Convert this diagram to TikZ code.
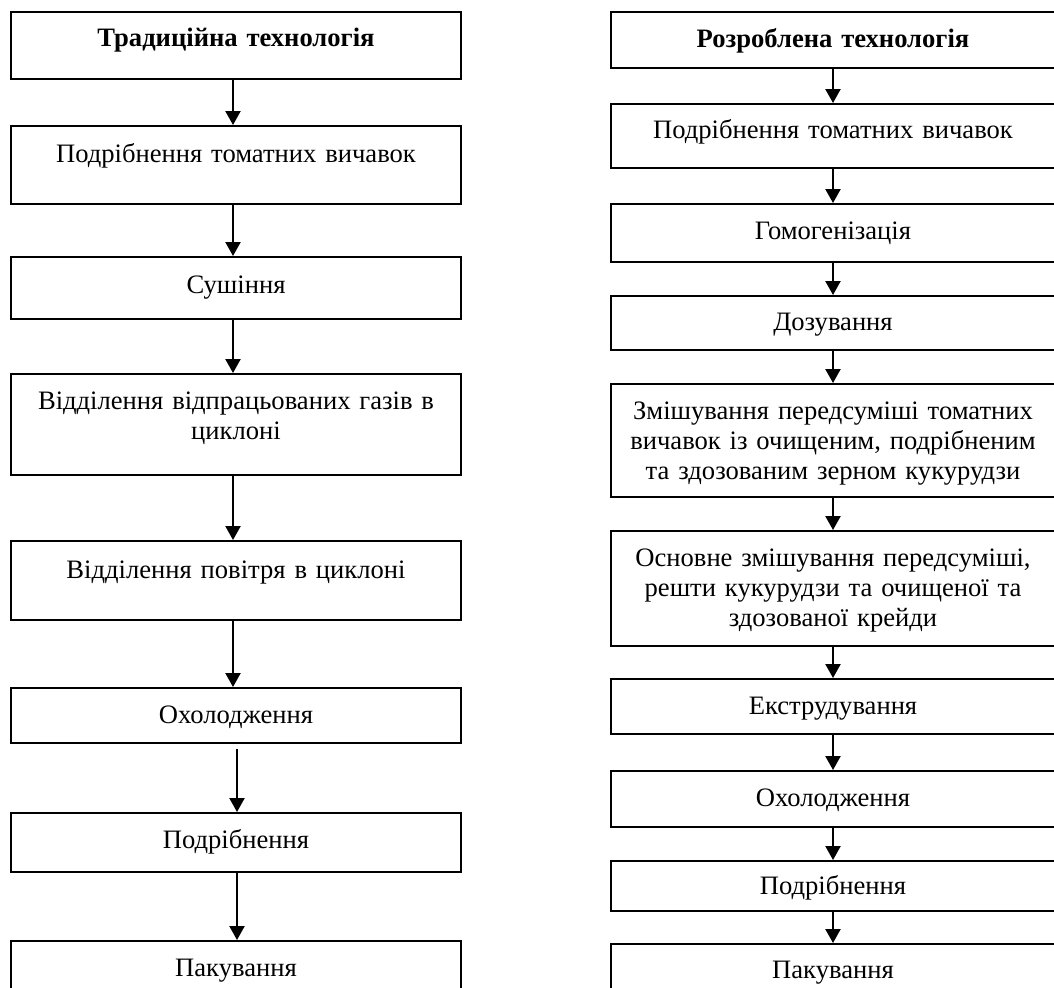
\documentclass[tikz,border=0pt]{standalone}
\usepackage{fontspec}
\setmainfont{Liberation Serif}
\usetikzlibrary{arrows.meta}
\tikzset{
  stage/.style={draw, line width=1pt, inner sep=0pt, anchor=north, align=center, text height=17.5pt},
  lstage/.style={stage, text width=225pt},
  rstage/.style={stage, text width=222pt},
  flow/.style={line width=1.1pt, -{Triangle[width=7.5pt,length=7pt]}}
}
\begin{document}
\begin{tikzpicture}[x=0.5pt, y=-0.5pt, font=\fontsize{13.3}{15}\selectfont]
\useasboundingbox (0,0) rectangle (1054,987);
\clip (0,0) rectangle (1054,987);
\node[lstage, text height=17pt, text depth=16.5pt] (trad0) at (236,11){\textbf{Традиційна технологія}};
\node[lstage, text height=18pt, text depth=21pt] (trad1) at (236,125){Подрібнення томатних вичавок};
\node[lstage, text height=18pt, text depth=13pt] (trad2) at (236,256){Сушіння};
\node[lstage, text depth=33pt] (trad3) at (236,373){Відділення відпрацьованих газів в\\циклоні};
\node[lstage, text height=18.5pt, text depth=21pt] (trad4) at (236,540){Відділення повітря в циклоні};
\node[lstage, text depth=10pt] (trad5) at (236,687){Охолодження};
\node[lstage, text depth=12pt] (trad6) at (236,812){Подрібнення};
\node[lstage, text depth=30pt] (trad7) at (236,940){Пакування};
\draw[flow] ([xshift=-1.5pt]trad0.south) -- ([xshift=-1.5pt]trad1.north);
\draw[flow] ([xshift=-1.5pt]trad1.south) -- ([xshift=-1.5pt]trad2.north);
\draw[flow] ([xshift=-1.5pt]trad2.south) -- ([xshift=-1.5pt]trad3.north);
\draw[flow] ([xshift=-1.5pt]trad3.south) -- ([xshift=-1.5pt]trad4.north);
\draw[flow] ([xshift=-1.5pt]trad4.south) -- ([xshift=-1.5pt]trad5.north);
\draw[flow] ([xshift=0.5pt,yshift=-2.5pt]trad5.south) -- ([xshift=0.5pt]trad6.north);
\draw[flow] ([xshift=0.5pt]trad6.south) -- ([xshift=0.5pt]trad7.north);
\node[rstage, text depth=10.5pt] (new0) at (833,11){\textbf{Розроблена технологія}};
\node[rstage, text height=17pt, text depth=15pt] (new1) at (833,103){Подрібнення томатних вичавок};
\node[rstage, text depth=11.5pt] (new2) at (833,203){Гомогенізація};
\node[rstage, text height=17pt, text depth=10pt] (new3) at (833,295){Дозування};
\node[rstage, text depth=39pt] (new4) at (833,383){Змішування передсуміші томатних\\вичавок із очищеним, подрібненим\\та здозованим зерном кукурудзи};
\node[rstage, text depth=40pt] (new5) at (833,530){Основне змішування передсуміші,\\решти кукурудзи та очищеної та\\здозованої крейди};
\node[rstage, text depth=10pt] (new6) at (833,678){Екструдування};
\node[rstage, text depth=10.5pt] (new7) at (833,770){Охолодження};
\node[rstage, text height=16.5pt, text depth=8.5pt] (new8) at (833,860){Подрібнення};
\node[rstage, text height=17pt, text depth=30pt] (new9) at (833,943){Пакування};
\draw[flow] (new0) -- (new1);
\draw[flow] (new1) -- (new2);
\draw[flow] (new2) -- (new3);
\draw[flow] (new3) -- (new4);
\draw[flow] (new4) -- (new5);
\draw[flow] (new5) -- (new6);
\draw[flow] (new6) -- (new7);
\draw[flow] (new7) -- (new8);
\draw[flow] (new8) -- (new9);
\end{tikzpicture}
\end{document}
